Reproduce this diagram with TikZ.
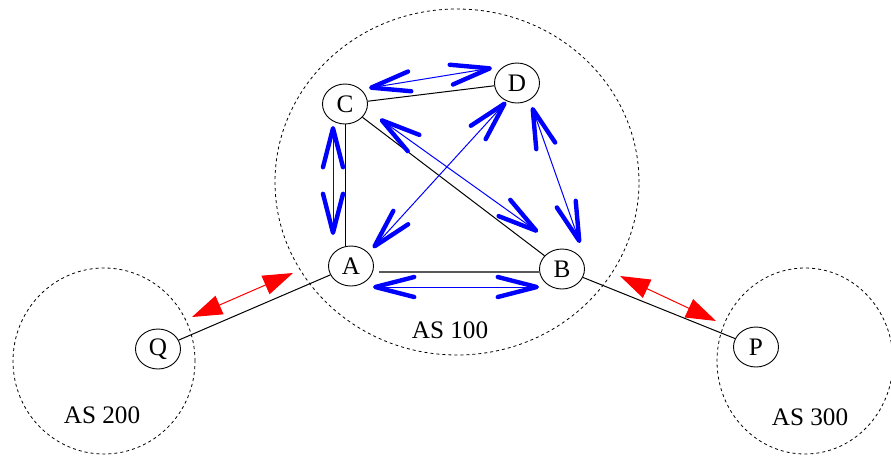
\documentclass[tikz,border=0pt]{standalone}
\usepackage{fontspec}
\setmainfont{Liberation Serif}
\usetikzlibrary{shapes.geometric,arrows.meta}
\definecolor{PeerBlue}{RGB}{0,0,255}
\definecolor{PeerRed}{RGB}{255,0,0}
\definecolor{LinkGrey}{RGB}{90,90,90}

\begin{document}
\begin{tikzpicture}[x=0.5pt, y=-0.5pt,
    router/.style={draw, ellipse, line width=0.45pt, minimum width=22.5pt, minimum height=20pt, inner sep=0pt, font=\fontsize{12.6}{15}\selectfont},
    asarea/.style={draw, dash pattern=on 1.5pt off 1.5pt, line width=0.4pt},
    aslabel/.style={font=\fontsize{12.6}{15}\selectfont},
    link/.style={line width=0.5pt},
    ibgp/.style={PeerBlue, line width=0.5pt, {Straight Barb[length=19.5pt, width=10pt, line width=2.2pt, round]}-{Straight Barb[length=19.5pt, width=10pt, line width=2.2pt, round]}},
    ebgp/.style={PeerRed, line width=0.5pt, {Triangle[length=15pt, width=10pt]}-{Triangle[length=15pt, width=10pt]}}]
    \useasboundingbox (0,0) rectangle (891,456);

    \draw[asarea] (457,182) ellipse [x radius=91pt, y radius=86.5pt];
    \draw[asarea] (104,361) ellipse [x radius=45.5pt, y radius=46.5pt];
    \draw[asarea] (805,361) ellipse [x radius=44pt, y radius=46.5pt];
    \node[aslabel] (as100) at (450,330) {AS 100};
    \node[aslabel] (as200) at (102,415) {AS 200};
    \node[aslabel] (as300) at (810,417) {AS 300};

    \node[router] (A) at (351,266) {A};
    \node[router] (B) at (562,269) {B};
    \node[router] (C) at (345,104) {C};
    \node[router] (D) at (517,83) {D};
    \node[router] (Q) at (158,349) {Q};
    \node[router] (P) at (756,347) {P};

    \draw[link] (C) -- (D);
    \draw[link] (C.south) -- (C.south |- A.north);
    \draw[link] (C) -- (B);
    \draw[link, LinkGrey, line width=0.9pt] ([xshift=2.5pt, yshift=-3pt]A.east) -- ([yshift=-1.5pt]B.west);
    \draw[link] (Q) -- (A);
    \draw[link] (B) -- (P);

    \coordinate (cd1) at (369,88);  \coordinate (cd2) at (492,68);
    \coordinate (ca1) at (333,126); \coordinate (ca2) at (333,235);
    \coordinate (cb1) at (380,119); \coordinate (cb2) at (538,232);
    \coordinate (da1) at (506,102); \coordinate (da2) at (373,248);
    \coordinate (db1) at (532,107); \coordinate (db2) at (580,243);
    \coordinate (ab1) at (373,287); \coordinate (ab2) at (539,287);
    \draw[ibgp] (cd1) -- (cd2);
    \draw[ibgp] (ca1) -- (ca2);
    \draw[ibgp] (cb1) -- (cb2);
    \draw[ibgp] (da1) -- (da2);
    \draw[ibgp] (db1) -- (db2);
    \draw[ibgp] (ab1) -- (ab2);

    \coordinate (qa1) at (192,317); \coordinate (qa2) at (293,273);
    \coordinate (bp1) at (620,276); \coordinate (bp2) at (716,321);
    \draw[ebgp] (qa1) -- (qa2);
    \draw[ebgp] (bp1) -- (bp2);
\end{tikzpicture}
\end{document}
